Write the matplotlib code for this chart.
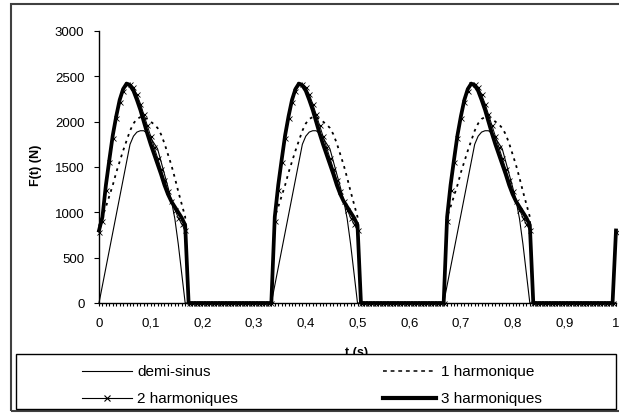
import numpy as np
import matplotlib
matplotlib.use("Agg")
import matplotlib.pyplot as plt
from matplotlib.patches import Rectangle
from matplotlib.lines import Line2D
from matplotlib.ticker import MultipleLocator, FuncFormatter

plt.rcParams["font.family"] = ["Liberation Sans", "DejaVu Sans"]

# time categories: 151 samples from 0 to 1 s
t = np.linspace(0, 1, 151)

# one pulse (samples 0..25); the force is 0 between pulses
demi_sinus = [0, 195, 390, 585, 780, 975, 1170, 1365, 1560, 1750, 1840, 1885, 1900,
              1900, 1870, 1820, 1760, 1700, 1560, 1420, 1280, 1130, 930, 650, 330, 0]
harm_1 = [850, 950, 1060, 1180, 1300, 1440, 1560, 1680, 1790, 1900, 1980, 2030, 2050,
          2050, 2030, 2000, 1970, 1930, 1860, 1760, 1640, 1520, 1380, 1230, 1090, 950]
harm_2 = [780, 900, 1250, 1550, 1820, 2040, 2220, 2340, 2410, 2420, 2380, 2300, 2200,
          2080, 1960, 1840, 1720, 1600, 1480, 1360, 1240, 1130, 1030, 940, 870, 800]
harm_3 = [800, 950, 1300, 1580, 1850, 2060, 2240, 2360, 2420, 2400, 2340, 2240, 2130,
          2000, 1870, 1750, 1640, 1530, 1420, 1300, 1200, 1120, 1060, 1000, 940, 860]

labels = ["demi-sinus", "1 harmonique", "2 harmoniques", "3 harmoniques"]


def full_series(pulse):
    # pulses start at 0, 1/3, 2/3 s and the next one shows at t = 1
    gap = [0] * 24
    first = list(pulse) + gap
    other = [0] + list(pulse[1:]) + gap
    return first + other + other + [pulse[0]]


W, H = 619, 414
fig = plt.figure(figsize=(W / 100, H / 100), dpi=100)
ax = fig.add_axes([99 / W, 1 - 304 / H, (616 - 99) / W, (304 - 32) / H])

ax.plot(t, full_series(demi_sinus), color="black", lw=0.8, clip_on=False)
ax.plot(t, full_series(harm_1), color="black", lw=1.3, ls=(0, (1.5, 2.5)), clip_on=False)
ax.plot(t, full_series(harm_3), color="black", lw=2.7, clip_on=False)
ax.plot(t, full_series(harm_2), color="black", lw=0.7, marker="x", ms=3.6,
        mew=0.6, clip_on=False)

ax.set_xlim(0, 1)
ax.set_ylim(0, 3000)
ax.spines["top"].set_visible(False)
ax.spines["right"].set_visible(False)
for s in ("left", "bottom"):
    ax.spines[s].set_linewidth(1)

ax.yaxis.set_major_locator(MultipleLocator(500))
ax.xaxis.set_major_locator(MultipleLocator(0.1))
ax.xaxis.set_minor_locator(MultipleLocator(1 / 150))
ax.xaxis.set_major_formatter(FuncFormatter(lambda v, p: ("%g" % round(v, 1)).replace(".", ",")))
ax.tick_params(axis="y", direction="out", length=3.5, width=0.8, pad=7, labelsize=9.5)
ax.tick_params(axis="x", which="both", direction="out", length=2.3, width=0.8, pad=7.5,
               labelsize=9.5)

# axis titles (x title is partly hidden behind the legend box, as in the original)
fig.text(36 / W, 1 - 165 / H, "F(t) (N)", rotation=90, ha="center", va="center",
         fontsize=9, fontweight="bold")
fig.text(357 / W, 1 - 353 / H, "t (s)", ha="center", va="center",
         fontsize=9, fontweight="bold")

# chart area border
fig.add_artist(Rectangle((11 / W, 1 - 412 / H), (630 - 11) / W, (412 - 5) / H,
                         transform=fig.transFigure, fill=False,
                         edgecolor="#404040", lw=1.5, zorder=5))

# legend box
fig.add_artist(Rectangle((16 / W, 1 - 410 / H), (616 - 16) / W, (410 - 355) / H,
                         transform=fig.transFigure, facecolor="white",
                         edgecolor="black", lw=1, zorder=6))

styles = [dict(color="black", lw=0.8),
          dict(color="black", lw=1.1, ls=(0, (2.5, 2.5))),
          dict(color="black", lw=0.8, marker="x", ms=3.8, mew=0.8, markevery=[1]),
          dict(color="black", lw=3)]
pos = [(82, 132, 137, 372), (383, 436, 441, 372), (82, 132, 137, 399), (383, 436, 441, 399)]
for lab, st, (x0, x1, xt, y) in zip(labels, styles, pos):
    yf = 1 - y / H
    fig.add_artist(Line2D([x0 / W, (x0 + x1) / 2 / W, x1 / W], [yf, yf, yf],
                          transform=fig.transFigure, zorder=7, **st))
    fig.text(xt / W, yf, lab, ha="left", va="center", fontsize=11, zorder=7)

fig.savefig("out.png", dpi=100)
